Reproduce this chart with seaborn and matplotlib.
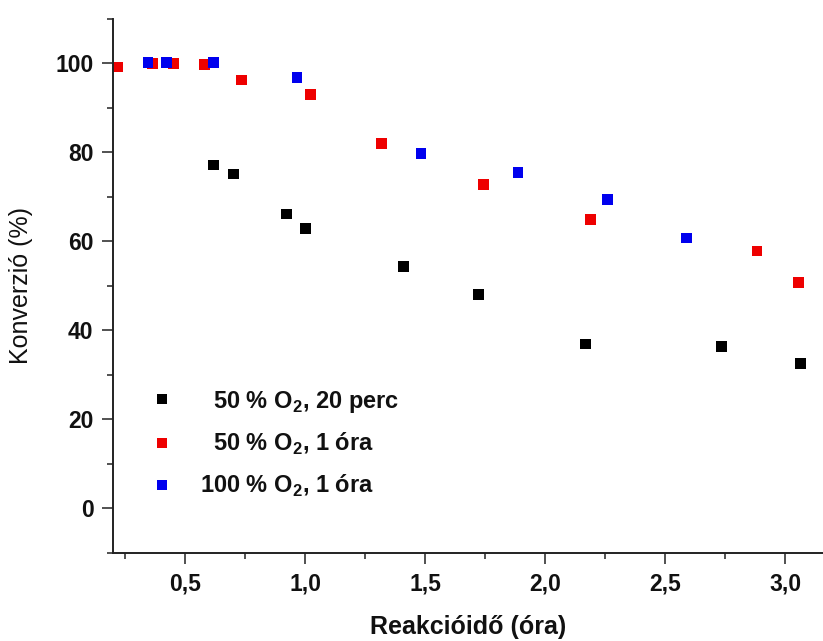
import numpy as np
import pandas as pd
import matplotlib
matplotlib.use("Agg")
import matplotlib.pyplot as plt
from matplotlib.ticker import MultipleLocator, FixedLocator, FixedFormatter
import seaborn as sns

# Series: 50 % O2, 20 perc
t_50_20 = [0.619, 0.701, 0.922, 1.001, 1.410, 1.722, 2.167, 2.733, 3.064]
c_50_20 = [77.1, 75.1, 66.1, 62.9, 54.4, 48.0, 36.9, 36.3, 32.5]

# Series: 50 % O2, 1 óra
t_50_1 = [0.221, 0.364, 0.452, 0.582, 0.735, 1.024, 1.318, 1.743, 2.189, 2.882, 3.054]
c_50_1 = [99.1, 99.9, 99.9, 99.6, 96.2, 93.0, 82.0, 72.8, 64.8, 57.8, 50.8]

# Series: 100 % O2, 1 óra
t_100_1 = [0.346, 0.424, 0.617, 0.966, 1.483, 1.887, 2.258, 2.587]
c_100_1 = [100.1, 100.1, 100.1, 96.8, 79.7, 75.4, 69.3, 60.7]

series_labels = [r"  50 % O$_\mathbf{2}$, 20 perc",
                 r"  50 % O$_\mathbf{2}$, 1 óra",
                 r"100 % O$_\mathbf{2}$, 1 óra"]
series_colors = ["#000000", "#ee0000", "#0000ee"]

x_ticks = [0.5, 1.0, 1.5, 2.0, 2.5, 3.0]
x_tick_labels = ["0,5", "1,0", "1,5", "2,0", "2,5", "3,0"]
y_ticks = [0, 20, 40, 60, 80, 100]

frames = []
for lab, t, c in zip(series_labels, [t_50_20, t_50_1, t_100_1],
                     [c_50_20, c_50_1, c_100_1]):
    frames.append(pd.DataFrame({"t": t, "c": c, "series": lab}))
df = pd.concat(frames, ignore_index=True)

sns.set_theme(style="ticks")
plt.rcParams["font.family"] = ["Liberation Sans", "DejaVu Sans"]
plt.rcParams["mathtext.fontset"] = "custom"
plt.rcParams["mathtext.rm"] = "Liberation Sans"
plt.rcParams["mathtext.bf"] = "Liberation Sans:bold"

fig = plt.figure(figsize=(8.23, 6.41), dpi=100)
ax = fig.add_axes([113 / 823, 88 / 641, 1 - 113 / 823, (553 - 18.5) / 641])

sns.scatterplot(data=df, x="t", y="c", hue="series",
                palette=dict(zip(series_labels, series_colors)),
                marker="s", s=60, linewidth=0, ax=ax)

ax.set_xlim(0.2, 3.157)
ax.set_ylim(-10, 110)

ax.xaxis.set_major_locator(FixedLocator(x_ticks))
ax.xaxis.set_major_formatter(FixedFormatter(x_tick_labels))
ax.xaxis.set_minor_locator(MultipleLocator(0.25))
ax.yaxis.set_major_locator(FixedLocator(y_ticks))
ax.yaxis.set_minor_locator(MultipleLocator(10))

for side in ["top", "right"]:
    ax.spines[side].set_visible(False)
for side in ["left", "bottom"]:
    ax.spines[side].set_linewidth(1.4)
    ax.spines[side].set_color("#222222")

ax.tick_params(which="major", direction="out", length=8, width=1.1,
               color="#222222", pad=6)
ax.tick_params(which="minor", direction="out", length=4, width=1.1,
               color="#222222")
for lbl in ax.get_xticklabels() + ax.get_yticklabels():
    lbl.set_fontsize(16.5)
    lbl.set_fontweight("bold")
    lbl.set_color("#111111")

ax.set_xlabel("Reakcióidő (óra)", fontsize=18, fontweight="bold",
              color="#111111", labelpad=14)
ax.set_ylabel("Konverzió (%)", fontsize=18, color="#111111", labelpad=16)

leg = ax.legend(loc="center left", bbox_to_anchor=(150 / 823, 197 / 641),
                bbox_transform=fig.transFigure, frameon=False,
                borderpad=0, borderaxespad=0, handlelength=1.0,
                handletextpad=1.1, labelspacing=0.68,
                prop={"size": 17, "weight": "bold"}, markerscale=1.0)
for txt in leg.get_texts():
    txt.set_color("#111111")

fig.savefig("out.png", dpi=100)
